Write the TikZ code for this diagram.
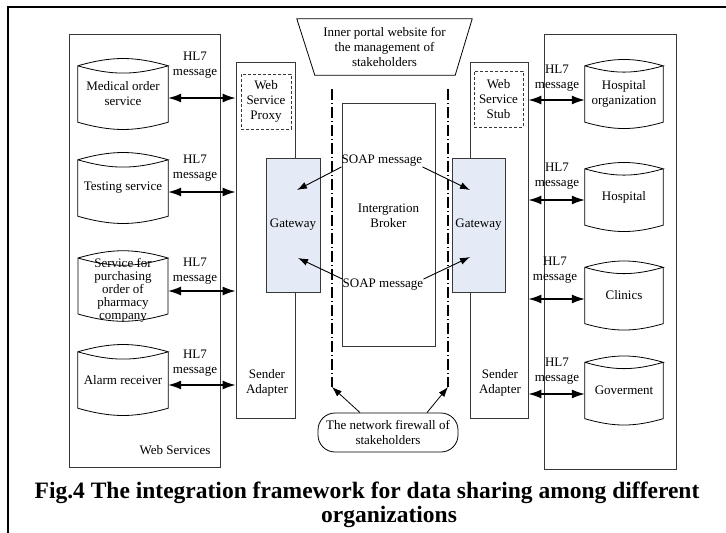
\documentclass[tikz,border=0pt]{standalone}
\usepackage{fontspec}
\setmainfont{Liberation Serif}
\usepackage{tikz}
\usetikzlibrary{positioning,calc,arrows.meta}
\definecolor{gatefill}{RGB}{228,235,246}
\definecolor{edge}{RGB}{55,55,55}

\tikzset{
  db/.style={minimum width=90pt, minimum height=72pt, inner sep=0pt, align=center},
  cyl/.style={draw=black, line width=0.8pt},
  frame/.style={draw=edge, line width=0.8pt, inner sep=0pt},
  dashbox/.style={draw=edge, densely dashed, line width=0.7pt, inner sep=0pt, align=center},
  gate/.style={draw=edge, fill=gatefill, line width=0.8pt, inner sep=0pt},
  lbl/.style={align=center, inner sep=0pt},
  hl/.style={line width=1.4pt, {Latex[length=13pt,width=9pt]}-{Latex[length=13pt,width=9pt]}},
  soap/.style={line width=0.9pt, -{Latex[length=10pt,width=7pt]}},
  fwline/.style={line width=1.1pt, dash pattern=on 11pt off 3pt on 1pt off 3pt},
  fwarrow/.style={line width=0.8pt, -{Latex[length=10pt,width=7pt]}},
  fwbox/.style={draw=black, line width=0.8pt, rounded corners=17pt, minimum width=140pt, minimum height=39pt, align=center, inner sep=0pt},
  caption/.style={font=\fontsize{23.5pt}{26pt}\selectfont\bfseries, anchor=base, inner sep=0pt}
}

\begin{document}
\begin{tikzpicture}[x=1pt, y=-1pt, font=\fontsize{13pt}{15pt}\selectfont]
    \useasboundingbox (0,0) rectangle (726,533);
    % outer frame
    \draw[line width=1.6pt] (8,533) -- (8,7) -- (726,7);

    % large frames
    \node[frame, minimum width=151pt, minimum height=433pt] (ws) at (144.5,250.5) {};
    \node[frame, minimum width=132pt, minimum height=435pt] (hs) at (610,251.5) {};
    \node[lbl] (wslbl) at (175,450) {Web Services};

    % sender adapters
    \node[frame, minimum width=59pt, minimum height=356pt] (spl) at (265.5,240) {};
    \node[frame, minimum width=58pt, minimum height=356pt] (spr) at (499,240) {};
    \node[dashbox, minimum width=50pt, minimum height=55pt] (proxy) at (266,101.5) {Web\\Service\\Proxy};
    \node[dashbox, minimum width=49pt, minimum height=56pt] (stub) at (498.5,99) {Web\\Service\\Stub};
    \node[lbl] (sal) at (267,383) {Sender\\Adapter};
    \node[lbl] (sar) at (500,383) {Sender\\Adapter};

    % portal
    \node[lbl, minimum width=175pt, minimum height=56pt] (portal) at (384.5,47) {Inner portal website for\\the management of\\stakeholders};
    \draw[cyl] (portal.north west) -- (portal.north east) -- ([xshift=-17pt]portal.south east) -- ([xshift=18pt]portal.south west) -- cycle;

    % broker
    \node[frame, minimum width=93pt, minimum height=243pt] (broker) at (388.5,224.5) {};
    \node[lbl] (brokerlbl) at (388.5,216) {Intergration\\Broker};

    % firewall lines
    \coordinate (fwl) at (332,387);
    \coordinate (fwr) at (448,387);
    \draw[fwline] (332,89) -- (fwl);
    \draw[fwline] (448,89) -- (fwr);

    % gateways
    \node[gate, minimum width=54pt, minimum height=134pt] (gwl) at (293,225) {Gateway};
    \node[gate, minimum width=53pt, minimum height=134pt] (gwr) at (478.5,225) {Gateway};

    % cylinders
    \node[db] (mos) at (123,94) {Medical order\\service};
    \node[db] (ts) at (123,188) {Testing service};
    \node[db, font=\fontsize{13pt}{13pt}\selectfont] (pur) at (123,290) {Service for\\purchasing\\order of\\pharmacy\\company};
    \node[db] (alarm) at (123,380) {Alarm receiver};
    \node[db, minimum width=78pt] (ho) at (624,94) {Hospital\\organization};
    \node[db, minimum width=78pt] (hosp) at (624,197) {Hospital};
    \node[db, minimum width=78pt] (clin) at (624,295.5) {Clinics};
    \node[db, minimum width=78pt] (gov) at (624,390.5) {Goverment};
    \foreach \n in {mos,ts,alarm,ho,hosp,clin,gov}{
      \draw[cyl] ([yshift=-8pt]\n.north west) coordinate (a) to[bend left=16] ([yshift=-8pt]\n.north east) coordinate (b)
        to[bend left=16] (a) -- ([yshift=8pt]\n.south west) to[bend right=16] ([yshift=8pt]\n.south east) -- (b);
    }
    \draw[cyl] (78,258) coordinate (a) to[bend left=16] (168,258) coordinate (b)
      to[bend left=16] (a) -- (78,314) to[bend right=16] (168,314) -- (b);

    % HL7 links
    \draw[hl] ([yshift=-4pt]mos.east) -- ([yshift=-4pt]mos.east -| spl.west);
    \draw[hl] ([yshift=-4pt]ts.east) -- ([yshift=-4pt]ts.east -| spl.west);
    \draw[hl] (168,291) -- (168,291 -| spl.west);
    \draw[hl] ([yshift=-5pt]alarm.east) -- ([yshift=-5pt]alarm.east -| spl.west);
    \draw[hl] ([yshift=-6pt]ho.west -| spr.east) -- ([yshift=-6pt]ho.west);
    \draw[hl] ([yshift=-3pt]hosp.west -| spr.east) -- ([yshift=-3pt]hosp.west);
    \draw[hl] ([yshift=-3.5pt]clin.west -| spr.east) -- ([yshift=-3.5pt]clin.west);
    \draw[hl] ([yshift=-3.5pt]gov.west -| spr.east) -- ([yshift=-3.5pt]gov.west);
    \node[lbl] (hl1) at (195,65) {HL7\\message};
    \node[lbl] (hl2) at (195,168) {HL7\\message};
    \node[lbl] (hl3) at (195,271) {HL7\\message};
    \node[lbl] (hl4) at (195,363) {HL7\\message};
    \node[lbl] (hl5) at (557,78) {HL7\\message};
    \node[lbl] (hl6) at (557,176) {HL7\\message};
    \node[lbl] (hl7) at (555,270) {HL7\\message};
    \node[lbl] (hl8) at (557,371) {HL7\\message};

    % SOAP
    \node[lbl] (soap1) at (382,161) {SOAP message};
    \node[lbl] (soap2) at (383,285) {SOAP message};
    \coordinate (gl1) at (297,190);
    \coordinate (gr1) at (470,190);
    \coordinate (gl2) at (298,258);
    \coordinate (gr2) at (470,257);
    \draw[soap] (soap1.south west) -- (gl1);
    \draw[soap] (soap1.south east) -- (gr1);
    \draw[soap] (soap2.north west) -- (gl2);
    \draw[soap] (soap2.north east) -- (gr2);

    % firewall
    \node[fwbox] (fw) at (388,432.5) {The network firewall of\\stakeholders};
    \draw[fwarrow] ([xshift=-28pt]fw.north) -- (fwl);
    \draw[fwarrow] ([xshift=39pt]fw.north) -- (fwr);

    % caption
    \node[caption] (cap1) at (367,498) {Fig.4 The integration framework for data sharing among different};
    \node[caption] (cap2) at (389,522) {organizations};
\end{tikzpicture}
\end{document}
